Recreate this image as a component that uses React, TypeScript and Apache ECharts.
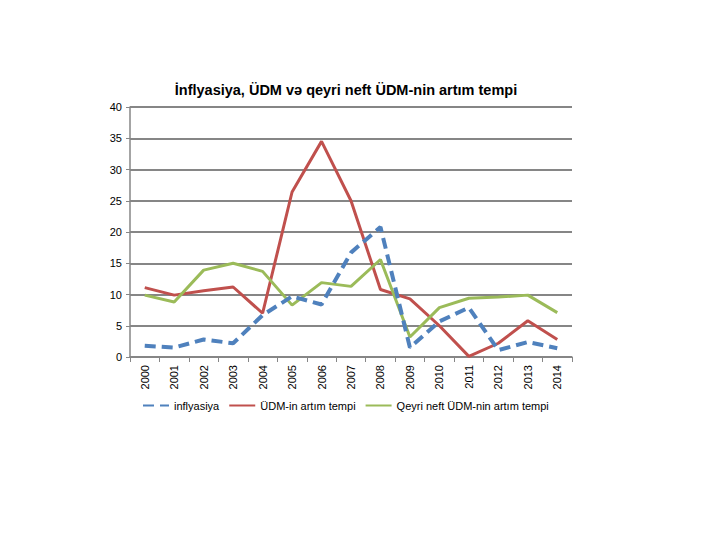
import React, { useEffect, useRef } from "react";
import * as echarts from "echarts";

const years = ["2000","2001","2002","2003","2004","2005","2006","2007","2008","2009","2010","2011","2012","2013","2014"];
const inflation = [1.8, 1.5, 2.8, 2.2, 6.7, 9.7, 8.4, 16.7, 20.8, 1.5, 5.7, 7.9, 1.1, 2.4, 1.4];
const gdpGrowth = [11.1, 9.9, 10.6, 11.2, 7.0, 26.4, 34.5, 25.0, 10.8, 9.3, 5.0, 0.1, 2.2, 5.8, 2.8];
const nonOilGdpGrowth = [9.9, 8.8, 13.9, 15.0, 13.7, 8.3, 11.9, 11.3, 15.6, 3.2, 7.9, 9.4, 9.6, 9.9, 7.1];
const seriesNames = ["inflyasiya", "ÜDM-in artım tempi", "Qeyri neft ÜDM-nin artım tempi"];
const title = "İnflyasiya, ÜDM və qeyri neft ÜDM-nin artım tempi";

const FONT = "'Liberation Sans', 'DejaVu Sans', sans-serif";

export default function App() {
  const ref = useRef<HTMLDivElement>(null);
  useEffect(() => {
    if (!ref.current) return;
    const chart = echarts.init(ref.current, undefined, { renderer: "svg" });
    chart.setOption({
      animation: false,
      backgroundColor: "#ffffff",
      title: {
        text: title,
        left: 341,
        textAlign: "center",
        top: 77,
        textStyle: { fontFamily: FONT, fontSize: 14.5, fontWeight: "bold", color: "#000" },
      },
      grid: { left: 130, right: 148, top: 107, bottom: 183, containLabel: false },
      legend: {
        top: 395,
        left: 137,
        itemWidth: 26,
        itemHeight: 10,
        itemGap: 9,
        itemStyle: { opacity: 0 },
        textStyle: { fontFamily: FONT, fontSize: 11, color: "#000" },
        data: seriesNames,
      },
      xAxis: {
        type: "category",
        data: years,
        boundaryGap: true,
        axisLine: { lineStyle: { color: "#868686", width: 1.5 } },
        axisTick: { show: true, alignWithLabel: false, length: 5, lineStyle: { color: "#868686" } },
        axisLabel: { rotate: 90, fontFamily: FONT, fontSize: 11, color: "#000", margin: 8, interval: 0 },
      },
      yAxis: {
        type: "value",
        min: 0,
        max: 40,
        interval: 5,
        axisLine: { show: true, lineStyle: { color: "#868686", width: 1.5 } },
        axisTick: { show: true, length: 4, lineStyle: { color: "#868686" } },
        splitLine: { lineStyle: { color: "#868686", width: 2 } },
        axisLabel: { fontFamily: FONT, fontSize: 11, color: "#000", margin: 8 },
      },
      series: [
        {
          name: seriesNames[0],
          type: "line",
          data: inflation,
          symbol: "none",
          z: 3,
          color: "#4F81BD",
          lineStyle: { color: "#4F81BD", width: 4, type: [11, 6] },
        },
        {
          name: seriesNames[1],
          type: "line",
          data: gdpGrowth,
          symbol: "none",
          z: 2,
          color: "#C0504D",
          lineStyle: { color: "#C0504D", width: 3 },
        },
        {
          name: seriesNames[2],
          type: "line",
          data: nonOilGdpGrowth,
          symbol: "none",
          z: 2,
          color: "#9BBB59",
          lineStyle: { color: "#9BBB59", width: 3 },
        },
      ],
    });
    return () => chart.dispose();
  }, []);
  return <div ref={ref} style={{ width: 720, height: 540, position: "absolute", left: 0, top: 0 }} />;
}
